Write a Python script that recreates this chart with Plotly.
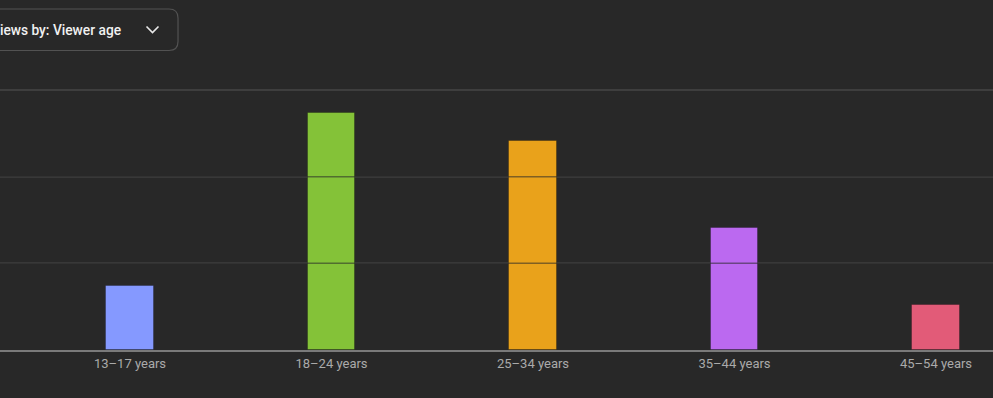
import plotly.graph_objects as go

categories = ["13–17 years", "18–24 years", "25–34 years", "35–44 years", "45–54 years"]
views_pct = [7.4, 27.3, 24.1, 14.1, 5.2]
bar_colors = ["#8599ff", "#84c238", "#e9a21b", "#bb69f0", "#e25b78"]
grid_values = [10, 20, 30]
dropdown_label = "Views by: Viewer age"

W, H = 993, 398
BG = "#282828"
plot_top, plot_bottom = 86, 350
ph = plot_bottom - plot_top
y_max = ph * 30 / 260.0

fig = go.Figure()
fig.add_trace(go.Bar(
    x=list(range(len(categories))),
    y=views_pct,
    width=0.238,
    marker=dict(color=bar_colors, line=dict(color="rgba(0,0,0,0.25)", width=1)),
    hoverinfo="skip",
))

# gridline overlay across bars (drawn above traces)
for g in grid_values[:2]:
    fig.add_shape(type="line", xref="paper", yref="y", x0=0, x1=1, y0=g, y1=g,
                  line=dict(color="rgba(40,40,40,0.55)", width=1.5), layer="above")

def px(x):
    return x / W

def py(y):
    return (plot_bottom - y) / ph

# dropdown box (rounded right corners; left side cut off)
xl, xr, yt, yb, r = -40, 178, 9, 50.5, 9
path = (f"M {px(xl)},{py(yt)} L {px(xr - r)},{py(yt)} "
        f"Q {px(xr)},{py(yt)} {px(xr)},{py(yt + r)} "
        f"L {px(xr)},{py(yb - r)} "
        f"Q {px(xr)},{py(yb)} {px(xr - r)},{py(yb)} "
        f"L {px(xl)},{py(yb)} Z")
fig.add_shape(type="path", xref="paper", yref="paper", path=path,
              line=dict(color="#525252", width=1.2), fillcolor="rgba(0,0,0,0)", layer="above")
# chevron
chev = f"M {px(146.5)},{py(26.5)} L {px(152.5)},{py(32.5)} L {px(158.5)},{py(26.5)}"
fig.add_shape(type="path", xref="paper", yref="paper", path=chev,
              line=dict(color="#e8e8e8", width=1.6), layer="above")

fig.add_annotation(text=dropdown_label, xref="paper", yref="paper",
                   x=px(122.5), y=py(30), xanchor="right", yanchor="middle",
                   showarrow=False,
                   font=dict(family="Roboto", size=13.75, color="#f1f1f1", weight=500))

slot = 201.5
x_left = (0 - 130) / slot
x_right = (W - 130) / slot

fig.update_layout(
    width=W, height=H,
    margin=dict(l=0, r=0, t=plot_top, b=H - plot_bottom),
    paper_bgcolor=BG, plot_bgcolor=BG,
    showlegend=False,
    bargap=0,
    xaxis=dict(range=[x_left, x_right], tickmode="array",
               tickvals=list(range(len(categories))), ticktext=categories,
               showgrid=False, zeroline=False, showline=True,
               linecolor="#7a7a7a", linewidth=2, ticks="",
               tickfont=dict(family="Roboto", size=13, color="#aaaaaa"),
               fixedrange=True),
    yaxis=dict(range=[0, y_max], tickvals=grid_values, showticklabels=False,
               showgrid=True, gridcolor="#3e3e3e", gridwidth=1.5,
               zeroline=False, showline=False, fixedrange=True),
)

fig.write_html("out.html", config={"displayModeBar": False},
               post_script="document.body.style.margin='0';document.body.style.background='#282828';")
